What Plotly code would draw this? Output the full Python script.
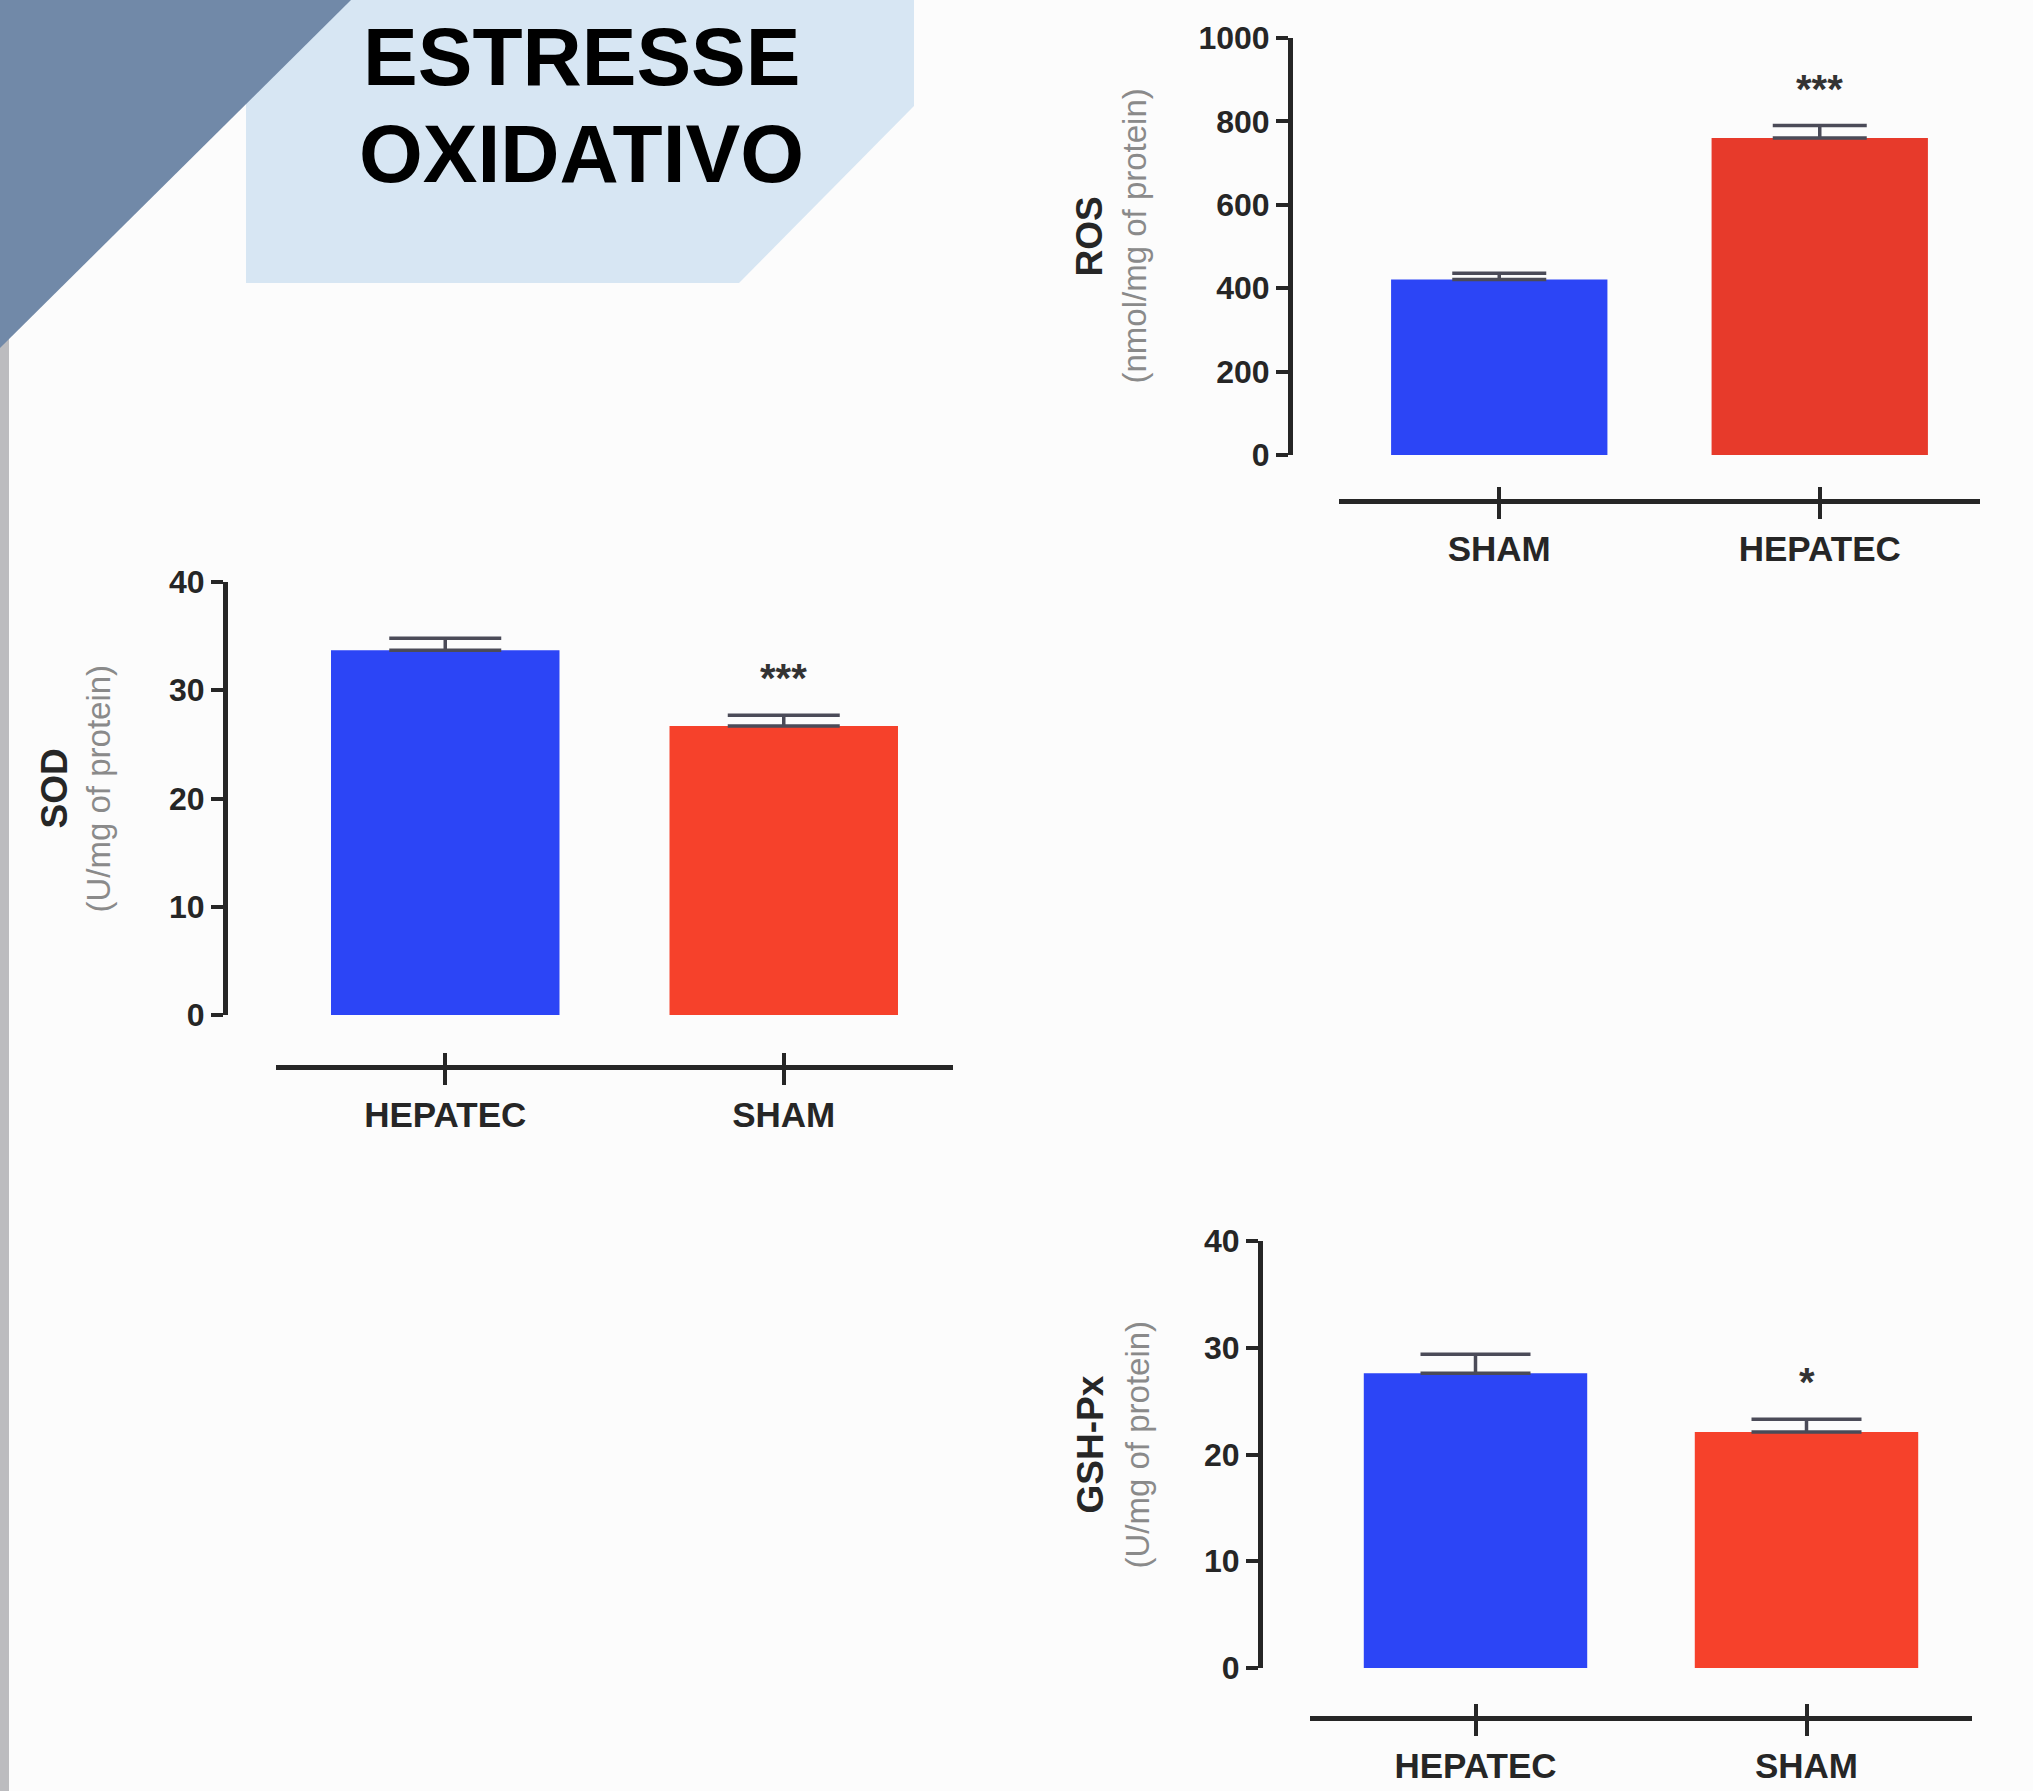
import plotly.graph_objects as go

# ---- data -------------------------------------------------------------
ros_groups = ["SHAM", "HEPATEC"]
ros_mean = [421, 760]
ros_sem = [15, 30]
ros_sig = ["", "***"]
ros_ticks = [0, 200, 400, 600, 800, 1000]

sod_groups = ["HEPATEC", "SHAM"]
sod_mean = [33.7, 26.7]
sod_sem = [1.1, 1.0]
sod_sig = ["", "***"]
sod_ticks = [0, 10, 20, 30, 40]

gsh_groups = ["HEPATEC", "SHAM"]
gsh_mean = [27.6, 22.1]
gsh_sem = [1.8, 1.2]
gsh_sig = ["", "*"]
gsh_ticks = [0, 10, 20, 30, 40]

title_lines = ["ESTRESSE", "OXIDATIVO"]

# ---- page geometry (pixels) --------------------------------------------
W, H = 2033, 1791
BLUE = "#2c45f6"
RED_A = "#e73a2b"
RED_B = "#f6412b"
INK = "#262626"
FONT = "Liberation Sans, Arial, sans-serif"


def fx(x):
    return x / W


def fy(y):
    return 1 - y / H


panels = [
    dict(groups=ros_groups, mean=ros_mean, sem=ros_sem, sig=ros_sig,
         ticks=ros_ticks, colors=[BLUE, RED_A],
         name="ROS", unit="(nmol/mg of protein)",
         yaxis_x=1290, y_top=38, y_bot=455, xline_y=501, x0=1339, x1=1980,
         title_x=1089, unit_x=1134, cap=47),
    dict(groups=sod_groups, mean=sod_mean, sem=sod_sem, sig=sod_sig,
         ticks=sod_ticks, colors=[BLUE, RED_B],
         name="SOD", unit="(U/mg of protein)",
         yaxis_x=225, y_top=582, y_bot=1015, xline_y=1067, x0=276, x1=953,
         title_x=54, unit_x=98, cap=56),
    dict(groups=gsh_groups, mean=gsh_mean, sem=gsh_sem, sig=gsh_sig,
         ticks=gsh_ticks, colors=[BLUE, RED_B],
         name="GSH-Px", unit="(U/mg of protein)",
         yaxis_x=1260, y_top=1241, y_bot=1668, xline_y=1718, x0=1310, x1=1972,
         title_x=1090, unit_x=1137, cap=55),
]

fig = go.Figure()
layout = {}
annotations = []

for i, p in enumerate(panels):
    xb, xo, yn = 2 * i + 1, 2 * i + 2, i + 1
    xb_ref = "x" if xb == 1 else f"x{xb}"
    xo_ref = f"x{xo}"
    y_ref = "y" if yn == 1 else f"y{yn}"
    xb_key = "xaxis" if xb == 1 else f"xaxis{xb}"
    xo_key = f"xaxis{xo}"
    y_key = "yaxis" if yn == 1 else f"yaxis{yn}"

    fig.add_trace(go.Bar(
        x=p["groups"], y=p["mean"],
        marker=dict(color=p["colors"], line=dict(width=0)),
        width=0.675,
        error_y=dict(type="data", array=p["sem"], arrayminus=[0] * len(p["sem"]),
                     symmetric=False, color="#4b4b58", thickness=3.5,
                     width=p["cap"]),
        xaxis=xb_ref, yaxis=y_ref, showlegend=False, hoverinfo="skip",
    ))
    # empty trace carrying the inward half of the cross-shaped category ticks
    fig.add_trace(go.Scatter(x=[], y=[], xaxis=xo_ref, yaxis=y_ref,
                             showlegend=False, hoverinfo="skip"))

    ymax = p["ticks"][-1]
    pos = fy(p["xline_y"])
    layout[xb_key] = dict(
        domain=[fx(p["x0"]), fx(p["x1"])], anchor="free", position=pos,
        type="category", range=[-0.5, len(p["groups"]) - 0.5],
        showline=True, linewidth=5, linecolor=INK,
        ticks="outside", ticklen=15, tickwidth=4, tickcolor=INK,
        tickfont=dict(family=FONT, size=35, color=INK, weight=700),
        showgrid=False, zeroline=False, fixedrange=True, automargin=False,
    )
    layout[xo_key] = dict(
        overlaying=xb_ref, anchor="free", position=pos,
        type="linear", range=[-0.5, len(p["groups"]) - 0.5],
        tickvals=list(range(len(p["groups"]))),
        ticks="inside", ticklen=14, tickwidth=4, tickcolor=INK,
        showticklabels=False, showline=False, showgrid=False, zeroline=False,
        automargin=False,
    )
    layout[y_key] = dict(
        domain=[fy(p["y_bot"]), fy(p["y_top"])], anchor="free",
        position=fx(p["yaxis_x"]), range=[0, ymax], tickvals=p["ticks"],
        showline=True, linewidth=5, linecolor=INK,
        ticks="outside", ticklen=12, tickwidth=4, tickcolor=INK,
        tickfont=dict(family=FONT, size=32, color=INK, weight=700),
        showgrid=False, zeroline=False, fixedrange=True, automargin=False,
    )

    # significance marks above the error bars
    for g, m, s, mark in zip(p["groups"], p["mean"], p["sem"], p["sig"]):
        if mark:
            annotations.append(dict(
                x=g, y=m + s, xref=xb_ref, yref=y_ref, text=mark,
                showarrow=False, yanchor="bottom", yshift=13,
                font=dict(family=FONT, size=40, color="#333333", weight=700),
            ))

    # two-line y-axis title
    yc = fy((p["y_top"] + p["y_bot"]) / 2 - 10)
    annotations.append(dict(
        x=fx(p["title_x"]), y=yc, xref="paper", yref="paper",
        text=p["name"], textangle=-90, showarrow=False,
        xanchor="center", yanchor="middle",
        font=dict(family=FONT, size=37, color=INK, weight=700),
    ))
    annotations.append(dict(
        x=fx(p["unit_x"]), y=yc, xref="paper", yref="paper",
        text=p["unit"], textangle=-90, showarrow=False,
        xanchor="center", yanchor="middle",
        font=dict(family=FONT, size=33, color="#8a8a8a"),
    ))

# header banner text
for line, yc in zip(title_lines, [57, 153]):
    annotations.append(dict(
        x=fx(581), y=fy(yc), xref="paper", yref="paper", text=line,
        showarrow=False, xanchor="center", yanchor="middle",
        font=dict(family="Liberation Sans Narrow, Arial Narrow, Liberation Sans",
                  size=82, color="#000000", weight=700),
    ))

shapes = [
    # light blue banner
    dict(type="path", xref="paper", yref="paper", layer="below",
         path=(f"M {fx(246)} {fy(0)} L {fx(914)} {fy(0)} L {fx(914)} {fy(106)} "
               f"L {fx(739)} {fy(283)} L {fx(246)} {fy(283)} Z"),
         fillcolor="#d7e6f3", line=dict(width=0)),
    # grey strip on the left edge
    dict(type="rect", xref="paper", yref="paper", layer="below",
         x0=0, x1=fx(9), y0=0, y1=fy(330),
         fillcolor="#bcbcbf", line=dict(width=0)),
    # slate corner triangle
    dict(type="path", xref="paper", yref="paper", layer="below",
         path=f"M 0 1 L {fx(351)} 1 L 0 {fy(348)} Z",
         fillcolor="#7189a8", line=dict(width=0)),
]

fig.update_layout(
    width=W, height=H,
    margin=dict(l=0, r=0, t=0, b=0, pad=0, autoexpand=False),
    paper_bgcolor="#fcfcfc", plot_bgcolor="rgba(0,0,0,0)",
    showlegend=False, annotations=annotations, shapes=shapes,
    bargap=0.3, **layout,
)

fig.write_html("out.html")
